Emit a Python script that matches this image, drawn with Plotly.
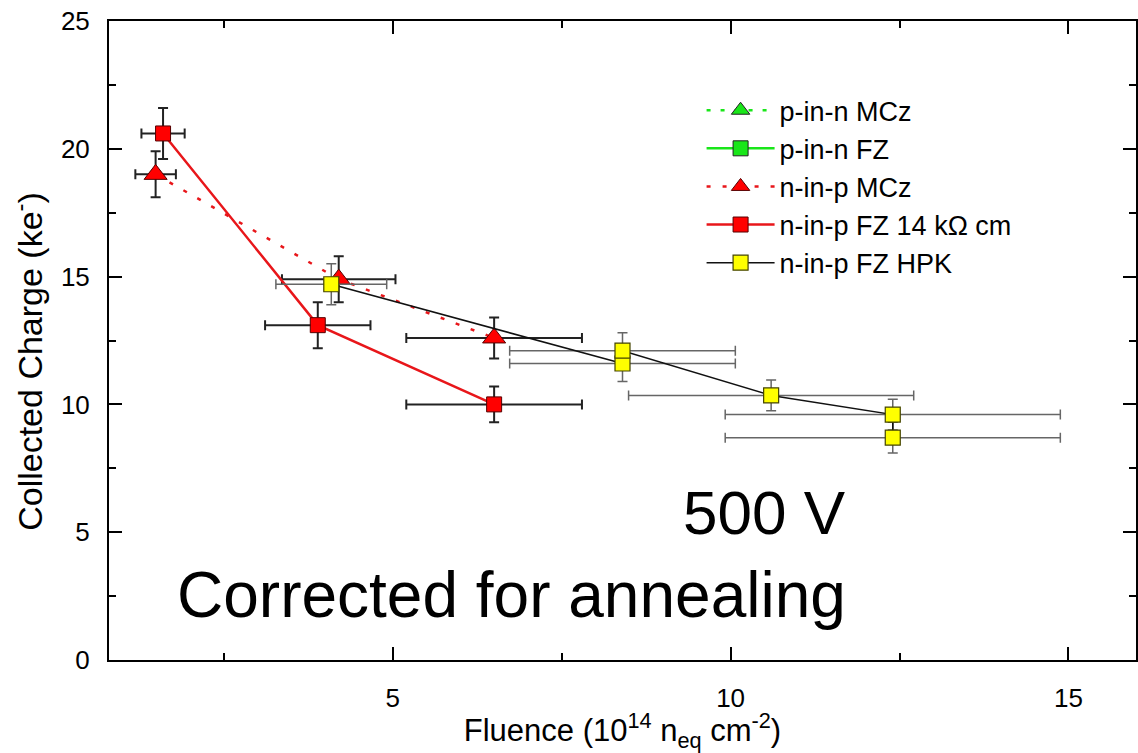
import plotly.graph_objects as go

# ---- data ----
mcz_np_x = [1.49, 4.20, 6.50]
mcz_np_y = [19.0, 14.9, 12.6]
mcz_np_xerr = [0.30, 0.84, 1.30]
mcz_np_yerr = [0.9, 0.9, 0.8]

fz_np_x = [1.60, 3.89, 6.50]
fz_np_y = [20.6, 13.1, 10.0]
fz_np_xerr = [0.32, 0.78, 1.30]
fz_np_yerr = [1.0, 0.9, 0.7]

hpk_x = [4.09, 8.40, 8.40, 10.60, 12.40, 12.40]
hpk_y = [14.7, 11.6, 12.1, 10.35, 9.6, 8.7]
hpk_xerr = [0.82, 1.67, 1.67, 2.11, 2.48, 2.48]
hpk_yerr = [0.8, 0.7, 0.7, 0.6, 0.6, 0.6]

series_names = ["p-in-n MCz", "p-in-n FZ", "n-in-p MCz",
                "n-in-p FZ 14 k\u03a9 cm", "n-in-p FZ HPK"]

x_ticks = [5, 10, 15]
y_ticks = [0, 5, 10, 15, 20, 25]

FONT = "Liberation Sans, Arial, sans-serif"
RED = "#e8161a"
GREEN = "#19e619"

fig = go.Figure()

# legend-only green series
fig.add_trace(go.Scatter(
    x=[None], y=[None], name=series_names[0], mode="lines+markers",
    line=dict(color=GREEN, width=2.5, dash="4px,10px"),
    marker=dict(symbol="triangle-up", size=20, color=GREEN,
                line=dict(color="#222222", width=1)),
    legendgroup="g1"))
fig.add_trace(go.Scatter(
    x=[None], y=[None], name=series_names[1], mode="lines+markers",
    line=dict(color=GREEN, width=2.5),
    marker=dict(symbol="square", size=15, color=GREEN,
                line=dict(color="#222222", width=1)),
    legendgroup="g2"))

# n-in-p MCz
fig.add_trace(go.Scatter(
    x=mcz_np_x, y=mcz_np_y, name=series_names[2], mode="lines+markers",
    line=dict(color=RED, width=2.5, dash="4px,12px"),
    marker=dict(symbol="triangle-up", size=20, color="#ff0000",
                line=dict(color="#550000", width=1)),
    error_x=dict(type="data", array=mcz_np_xerr, color="#222222", thickness=2, width=5),
    error_y=dict(type="data", array=mcz_np_yerr, color="#222222", thickness=2, width=5),
    legendgroup="g3"))

# n-in-p FZ 14 kOhm cm
fig.add_trace(go.Scatter(
    x=fz_np_x, y=fz_np_y, name=series_names[3], mode="lines+markers",
    line=dict(color=RED, width=2.5),
    marker=dict(symbol="square", size=15, color="#ff0000",
                line=dict(color="#550000", width=1)),
    error_x=dict(type="data", array=fz_np_xerr, color="#222222", thickness=2, width=5),
    error_y=dict(type="data", array=fz_np_yerr, color="#222222", thickness=2, width=5),
    legendgroup="g4"))

# n-in-p FZ HPK
fig.add_trace(go.Scatter(
    x=hpk_x, y=hpk_y, name=series_names[4], mode="lines+markers",
    line=dict(color="#111111", width=1.5),
    marker=dict(symbol="square", size=15, color="#ffff00",
                line=dict(color="#444400", width=1.2)),
    error_x=dict(type="data", array=hpk_xerr, color="#666666", thickness=1.5, width=5),
    error_y=dict(type="data", array=hpk_yerr, color="#666666", thickness=1.5, width=5),
    legendgroup="g5"))

axis_common = dict(
    showgrid=False, zeroline=False, showline=True, linecolor="black",
    linewidth=2, mirror="ticks", ticks="inside", ticklen=13, tickwidth=2,
    tickcolor="black", tickfont=dict(family=FONT, size=26, color="black"),
    automargin=False,
)

fig.update_xaxes(
    range=[0.8, 16], tickmode="array", tickvals=x_ticks,
    ticktext=[str(v) for v in x_ticks],
    minor=dict(dtick=2.5, tick0=0, ticks="inside", ticklen=7, tickwidth=2, tickcolor="black"),
    ticklabelstandoff=14,
    title=dict(text="Fluence (10<sup>14</sup> n<sub>eq</sub> cm<sup>-2</sup>)",
               font=dict(family=FONT, size=31, color="black"), standoff=0),
    **axis_common)
fig.update_yaxes(
    range=[0, 25], tickmode="array", tickvals=y_ticks,
    ticktext=[str(v) for v in y_ticks],
    minor=dict(dtick=2.5, tick0=0, ticks="inside", ticklen=7, tickwidth=2, tickcolor="black"),
    ticklabelstandoff=12,
    **axis_common)

fig.add_annotation(
    text="Collected Charge (ke<sup>-</sup>)", textangle=-90,
    xref="paper", yref="paper", x=-0.079, y=0.468,
    xanchor="center", yanchor="middle", showarrow=False,
    font=dict(family=FONT, size=34, color="black"))

fig.add_annotation(
    text="500 V", xref="x", yref="y", x=11.74, y=5.79,
    xanchor="right", yanchor="middle", showarrow=False,
    font=dict(family=FONT, size=62, color="black"))
fig.add_annotation(
    text="Corrected for annealing", xref="x", yref="y", x=11.74, y=2.55,
    xanchor="right", yanchor="middle", showarrow=False,
    font=dict(family=FONT, size=64, color="black"))

fig.update_layout(
    width=1138, height=753,
    margin=dict(l=109, r=2, t=21, b=93, autoexpand=False),
    paper_bgcolor="white", plot_bgcolor="white",
    showlegend=True,
    legend=dict(x=0.577, y=0.898, xanchor="left", yanchor="top",
                bgcolor="rgba(0,0,0,0)", itemwidth=68, tracegroupgap=0,
                font=dict(family=FONT, size=27, color="black")),
    font=dict(family=FONT, color="black"),
)

fig.write_html("out.html", config={"displayModeBar": False},
               post_script="document.body.style.margin='0px';document.body.style.overflow='hidden';")
